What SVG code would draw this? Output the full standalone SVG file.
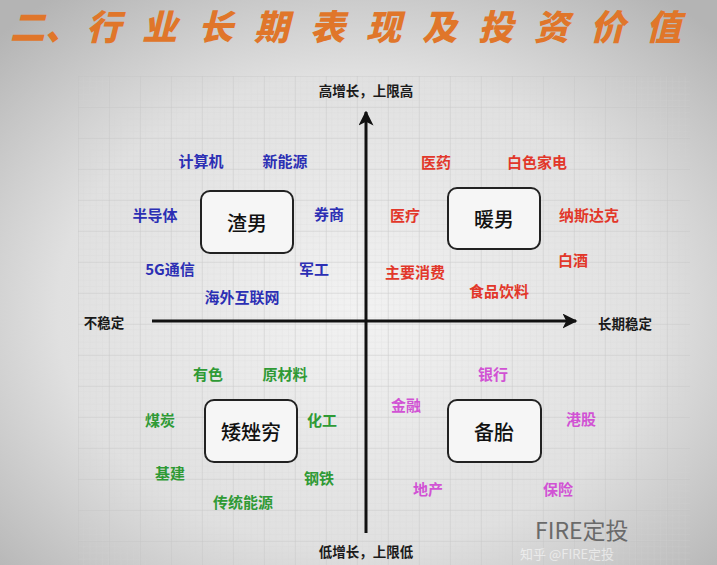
<svg xmlns="http://www.w3.org/2000/svg" width="717" height="565" viewBox="0 0 717 565">
<defs>
<radialGradient id="bg" cx="0.5" cy="0.55" r="0.7">
<stop offset="0" stop-color="#f2f2f2"/>
<stop offset="0.6" stop-color="#e0e0e0"/>
<stop offset="1" stop-color="#b4b4b4"/>
</radialGradient>
<pattern id="minor" width="6.2" height="6.2" patternUnits="userSpaceOnUse" x="78" y="76">
<path d="M6.2 0V6.2H0" fill="none" stroke="#d4d4d4" stroke-width="0.5"/>
</pattern>
<pattern id="major" width="31" height="31" patternUnits="userSpaceOnUse" x="78" y="76">
<path d="M0 0V31M0 0H31" fill="none" stroke="#c2c2c2" stroke-width="0.8"/>
</pattern>
<marker id="arr" viewBox="0 0 10 10" refX="9" refY="5" markerWidth="5" markerHeight="5" orient="auto" markerUnits="strokeWidth">
<path d="M0 0L10 5L0 10L2.5 5Z" fill="#111"/>
</marker>
<style>
.t{font-family:"Noto Sans CJK SC","Noto Sans",sans-serif;font-weight:700;text-anchor:middle;dominant-baseline:central}
.b{fill:#2c2fb4;font-size:15px}
.r{fill:#e2372a;font-size:15px}
.g{fill:#2f9a35;font-size:15px}
.m{fill:#d152d4;font-size:15px}
.ax{fill:#1a1a1a;font-size:13.5px}
.box rect{fill:#f6f6f6;stroke:#222;stroke-width:2}
.box text{fill:#111;font-size:20px;font-weight:500}
</style>
</defs>
<rect width="717" height="565" fill="url(#bg)"/>
<rect x="78" y="76" width="612" height="489" fill="url(#minor)" opacity="0.7"/>
<rect x="78" y="76" width="612" height="489" fill="url(#major)" opacity="0.8"/>

<text x="10" y="40" font-family="Noto Sans CJK SC,sans-serif" font-weight="900" font-size="35" fill="#e0762a" font-style="italic">二、<tspan x="86" letter-spacing="21">行业长期表现及投资价值</tspan></text>

<g id="connectors" stroke="#111" stroke-width="3" fill="none">
<line x1="366" y1="533" x2="366" y2="112" marker-end="url(#arr)"/>
<line x1="152" y1="321" x2="576" y2="321" marker-end="url(#arr)"/>
</g>

<g id="axis-labels">
<text class="t ax" x="366" y="90">高增长，上限高</text>
<text class="t ax" x="104" y="322">不稳定</text>
<text class="t ax" x="625" y="323">长期稳定</text>
<text class="t ax" x="366" y="551">低增长，上限低</text>
</g>

<g id="zhanan" class="box"><rect x="201" y="191" width="92" height="62" rx="9"/><text class="t" x="247" y="222">渣男</text></g>
<g id="nuannan" class="box"><rect x="448" y="188" width="92" height="61" rx="9"/><text class="t" x="494" y="218">暖男</text></g>
<g id="aicuoqiong" class="box"><rect x="205" y="400" width="92" height="62" rx="9"/><text class="t" x="251" y="431">矮矬穷</text></g>
<g id="beitai" class="box"><rect x="448" y="400" width="93" height="62" rx="9"/><text class="t" x="494" y="431">备胎</text></g>

<g id="blue">
<text class="t b" x="201" y="160">计算机</text>
<text class="t b" x="285" y="160">新能源</text>
<text class="t b" x="155" y="214">半导体</text>
<text class="t b" x="329" y="213">券商</text>
<text class="t b" x="170" y="268">5G通信</text>
<text class="t b" x="314" y="268">军工</text>
<text class="t b" x="242" y="296">海外互联网</text>
</g>
<g id="red">
<text class="t r" x="436" y="161">医药</text>
<text class="t r" x="537" y="161">白色家电</text>
<text class="t r" x="405" y="214">医疗</text>
<text class="t r" x="589" y="214">纳斯达克</text>
<text class="t r" x="573" y="259">白酒</text>
<text class="t r" x="415" y="271">主要消费</text>
<text class="t r" x="499" y="290">食品饮料</text>
</g>
<g id="green">
<text class="t g" x="208" y="373">有色</text>
<text class="t g" x="285" y="373">原材料</text>
<text class="t g" x="160" y="419">煤炭</text>
<text class="t g" x="322" y="419">化工</text>
<text class="t g" x="170" y="472">基建</text>
<text class="t g" x="319" y="477">钢铁</text>
<text class="t g" x="243" y="501">传统能源</text>
</g>
<g id="magenta">
<text class="t m" x="493" y="373">银行</text>
<text class="t m" x="406" y="404">金融</text>
<text class="t m" x="581" y="418">港股</text>
<text class="t m" x="428" y="488">地产</text>
<text class="t m" x="558" y="488">保险</text>
</g>

<g id="watermark">
<text x="535" y="539" font-family="Noto Sans CJK SC,sans-serif" font-size="23" fill="#6a6a6a">FIRE定投</text>
<text x="520" y="559" font-family="Noto Sans CJK SC,sans-serif" font-size="13" fill="#ffffff" opacity="0.55">知乎 @FIRE定投</text>
</g>
</svg>
